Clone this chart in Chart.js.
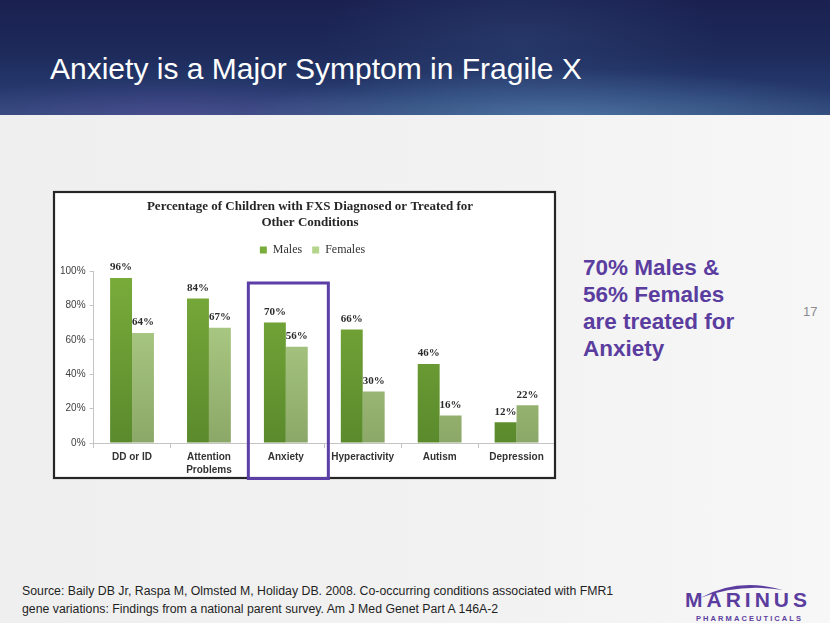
<!DOCTYPE html>
<html>
<head>
<meta charset="utf-8">
<script src="https://cdn.jsdelivr.net/npm/chart.js@4.4.1/dist/chart.umd.min.js"></script>
<style>
html,body{margin:0;padding:0;}
body{width:830px;height:623px;position:relative;overflow:hidden;
  background:linear-gradient(90deg,#efefef 0%,#f2f2f2 60%,#f7f7f7 100%);
  font-family:"Liberation Sans",Arial,sans-serif;}
#header{position:absolute;left:0;top:0;width:830px;height:115px;
  background:
    radial-gradient(ellipse 320px 50px at 560px 118px, rgba(100,150,195,0.5), rgba(100,150,195,0) 100%),
    radial-gradient(ellipse 260px 40px at 170px 118px, rgba(110,85,170,0.4), rgba(110,85,170,0) 100%),
    radial-gradient(ellipse 200px 90px at 520px 40px, rgba(60,90,140,0.3), rgba(60,90,140,0) 100%),
    linear-gradient(180deg,#1a2150 0%,#1d2a5a 45%,#263a6e 80%,#30497a 100%);}
#slideTitle{position:absolute;left:50px;top:51px;color:#fff;font-size:30px;line-height:36px;white-space:nowrap;
  font-family:"Liberation Sans",Arial,sans-serif;}
#chartWrap{position:absolute;left:50px;top:188px;width:510px;height:294px;}
#callout{position:absolute;left:583px;top:254px;color:#5b3d9f;font-weight:bold;font-size:22.5px;line-height:27px;
  font-family:"Liberation Sans",Arial,sans-serif;white-space:nowrap;}
#pageNum{position:absolute;left:803px;top:304px;color:#8c8c8c;font-size:13px;line-height:16px;}
#source{position:absolute;left:22px;top:583px;color:#1f1f1f;font-size:12px;line-height:17.5px;white-space:nowrap;}
#logo{position:absolute;left:680px;top:580px;}
</style>
</head>
<body>
<div id="header"></div>
<div id="slideTitle">Anxiety is a Major Symptom in Fragile X</div>
<div id="chartWrap"><canvas id="c" width="510" height="294"></canvas></div>
<div id="callout">70% Males &amp;<br>56% Females<br>are treated for<br>Anxiety</div>
<div id="pageNum">17</div>
<div id="source"><span id="src1">Source: Baily DB Jr, Raspa M, Olmsted M, Holiday DB. 2008. Co-occurring conditions associated with FMR1</span><br><span id="src2">gene variations: Findings from a national parent survey. Am J Med Genet Part A 146A-2</span></div>
<svg id="logo" width="140" height="43" viewBox="0 0 140 43">
  <path d="M20 18 Q58 -3 103 10 Q60 3 20 18 Z" fill="#5b3d9f"/>
  <text x="5" y="27" font-family="Liberation Sans, Arial, sans-serif" font-size="21" font-weight="bold" fill="#5b3d9f" textLength="122" lengthAdjust="spacing">MARINUS</text>
  <text x="16" y="41" font-family="Liberation Sans, Arial, sans-serif" font-size="7.5" font-weight="bold" fill="#5b3d9f" textLength="105" lengthAdjust="spacing">PHARMACEUTICALS</text>
</svg>
<script>
// ---- data ----
const categories = ['DD or ID', ['Attention', 'Problems'], 'Anxiety', 'Hyperactivity', 'Autism', 'Depression'];
const seriesNames = ['Males', 'Females'];
const malesValues = [96, 84, 70, 66, 46, 12];
const femalesValues = [64, 67, 56, 30, 16, 22];
const yTickValues = [0, 20, 40, 60, 80, 100];
const chartTitleLines = ['Percentage of Children with FXS Diagnosed or Treated for', 'Other Conditions'];
const highlightIndex = 2; // Anxiety

// fit source text width
(function(){
  const s1 = document.getElementById('src1');
  const w = s1.getBoundingClientRect().width;
  const fs = 12 * 592 / w;
  document.getElementById('source').style.fontSize = fs.toFixed(2) + 'px';
})();

function grad(ctx, top, bottom) {
  const chart = ctx.chart;
  const area = chart.chartArea;
  if (!area) return top;
  const g = chart.ctx.createLinearGradient(0, area.top, 0, area.bottom);
  g.addColorStop(0, top);
  g.addColorStop(1, bottom);
  return g;
}

const boxPlugin = {
  id: 'boxPlugin',
  beforeDraw(chart) {
    const c = chart.ctx;
    c.save();
    c.fillStyle = '#ffffff';
    c.fillRect(4, 4, 501, 286);
    c.restore();
  },
  afterLayout(chart) {
    if (chart.legend) { chart.legend.top -= 5; chart.legend.bottom -= 5; chart.legend.left += 7; chart.legend.right += 7; }
    if (chart.titleBlock) { chart.titleBlock.left += 4.5; chart.titleBlock.right += 4.5; }
  },
  afterDatasetsDraw(chart) {
    const c = chart.ctx;
    c.save();
    c.font = 'bold 11px "Liberation Serif", "Times New Roman", serif';
    c.fillStyle = '#2b2b2b';
    c.textAlign = 'center';
    c.textBaseline = 'middle';
    chart.data.datasets.forEach((ds, di) => {
      const meta = chart.getDatasetMeta(di);
      meta.data.forEach((bar, i) => {
        c.fillText(ds.data[i] + '%', bar.x, bar.y - 10.5);
      });
    });
    c.restore();
  },
  afterDraw(chart) {
    const c = chart.ctx;
    c.save();
    c.strokeStyle = '#262626';
    c.lineWidth = 2.2;
    c.strokeRect(4, 4, 501, 286);
    // highlight box around Anxiety
    const xs = chart.scales.x, ys = chart.scales.y;
    const cx = xs.getPixelForValue(highlightIndex) + 2.5;
    const top = ys.getPixelForValue(100) + 12;
    c.strokeStyle = '#5b3fa6';
    c.lineWidth = 3;
    c.strokeRect(cx - 40, top, 80, chart.height - 3.5 - top);
    c.restore();
  }
};

new Chart(document.getElementById('c'), {
  type: 'bar',
  data: {
    labels: categories,
    datasets: [
      { label: seriesNames[0], data: malesValues,
        backgroundColor: (ctx) => grad(ctx, '#7aac3b', '#5a8a2c'), borderWidth: 0,
        categoryPercentage: 0.57, barPercentage: 1.0 },
      { label: seriesNames[1], data: femalesValues,
        backgroundColor: (ctx) => grad(ctx, '#b5d58d', '#8ca868'), borderWidth: 0,
        categoryPercentage: 0.57, barPercentage: 1.0 }
    ]
  },
  options: {
    responsive: false,
    animation: false,
    devicePixelRatio: 1,
    layout: { padding: { left: 6, right: 5, top: 0, bottom: 2 } },
    plugins: {
      title: {
        display: true, text: chartTitleLines, color: '#262626',
        font: { family: '"Liberation Serif", "Times New Roman", serif', size: 13, weight: 'bold', lineHeight: '16px' },
        padding: { top: 11, bottom: 8 }
      },
      legend: {
        display: true, position: 'top',
        labels: { boxWidth: 7, boxHeight: 7, padding: 10, color: '#333',
          font: { family: '"Liberation Serif", "Times New Roman", serif', size: 12 } }
      },
      tooltip: { enabled: false }
    },
    scales: {
      x: {
        grid: { display: true, drawOnChartArea: false, drawTicks: true, tickLength: 5, offset: true, color: '#c4c4c4' },
        border: { display: true, color: '#c4c4c4' },
        ticks: { color: '#333', padding: 3, maxRotation: 0, autoSkip: false,
          font: { family: '"Liberation Sans", Arial, sans-serif', size: 10, weight: 'bold', lineHeight: 1.3 } }
      },
      y: {
        min: 0, max: 100,
        afterBuildTicks(scale) { scale.ticks = yTickValues.map(v => ({ value: v })); },
        grid: { display: true, drawOnChartArea: false, drawTicks: true, tickLength: 4, color: '#c4c4c4' },
        border: { display: true, color: '#c4c4c4' },
        ticks: { color: '#404040', padding: 4, callback: (v) => v + '%',
          font: { family: '"Liberation Sans", Arial, sans-serif', size: 10 } }
      }
    }
  },
  plugins: [boxPlugin]
});
</script>
</body>
</html>
